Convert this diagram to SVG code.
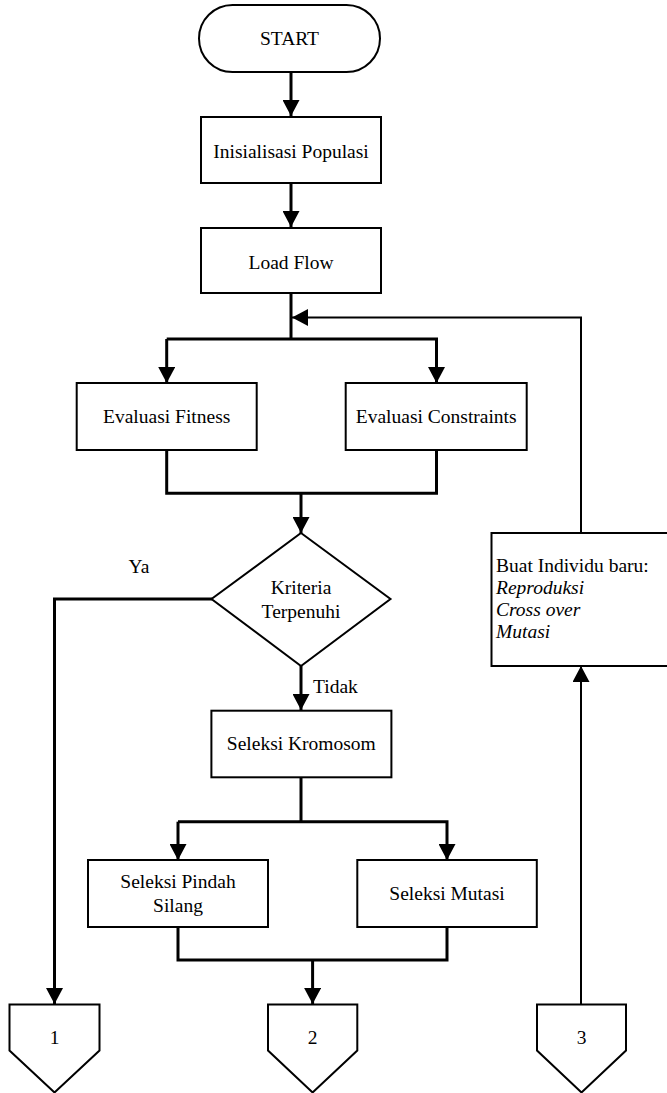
<svg xmlns="http://www.w3.org/2000/svg" width="667" height="1093" viewBox="0 0 667 1093">
<defs>
<style>
.box{fill:#fff;stroke:#000;stroke-width:2}
text{font-family:'Liberation Serif','Times New Roman',Times,'DejaVu Serif',serif;font-size:19.5px;fill:#000}
.t{text-anchor:middle}
.it{font-style:italic}
.thick{fill:none;stroke:#000;stroke-width:3}
.thin{fill:none;stroke:#000;stroke-width:2}
</style>
<marker id="ah" viewBox="0 0 16 17" refX="16" refY="8.5" markerWidth="16" markerHeight="17" markerUnits="userSpaceOnUse" orient="auto">
<path d="M0,0 L16,8.5 L0,17 Z" fill="#000"/>
</marker>
</defs>
<rect width="667" height="1093" fill="#fff"/>
<g id="connectors">
<path class="thick" d="M291,72 V116" marker-end="url(#ah)"/>
<path class="thick" d="M291,183 V227" marker-end="url(#ah)"/>
<path class="thick" d="M291,293 V339"/>
<path class="thick" d="M166.7,339 H436.5 V383" marker-end="url(#ah)"/>
<path class="thick" d="M166.7,339 V383" marker-end="url(#ah)"/>
<path class="thick" d="M166.7,450 V493.3 H436.5 V450"/>
<path class="thick" d="M301,493.3 V533" marker-end="url(#ah)"/>
<path class="thick" d="M212,599 H54.5 V1004" marker-end="url(#ah)"/>
<path class="thick" d="M301,666 V710" marker-end="url(#ah)"/>
<path class="thick" d="M301,777 V821.7"/>
<path class="thick" d="M178,821.7 V860" marker-end="url(#ah)"/>
<path class="thick" d="M178,821.7 H447 V860" marker-end="url(#ah)"/>
<path class="thick" d="M178,927 V960 H447 V927"/>
<path class="thick" d="M312.6,960 V1004" marker-end="url(#ah)"/>
<path class="thin" d="M581,1004 V666" marker-end="url(#ah)"/>
<path class="thin" d="M581,533 V317.5 H292" marker-end="url(#ah)"/>
</g>
<g id="start">
<rect class="box" x="199" y="5" width="181" height="67" rx="33.5" ry="33.5"/>
<text class="t" x="289.5" y="45" font-family="Liberation Serif">START</text>
</g>
<g id="inisialisasi">
<rect class="box" x="201" y="117" width="180" height="66"/>
<text class="t" x="291" y="158">Inisialisasi Populasi</text>
</g>
<g id="loadflow">
<rect class="box" x="201" y="228" width="180" height="65"/>
<text class="t" x="291" y="269">Load Flow</text>
</g>
<g id="fitness">
<rect class="box" x="76.7" y="383" width="180" height="67"/>
<text class="t" x="166.7" y="423">Evaluasi Fitness</text>
</g>
<g id="constraints">
<rect class="box" x="345.7" y="383" width="181" height="67"/>
<text class="t" x="436.2" y="423">Evaluasi Constraints</text>
</g>
<g id="kriteria">
<polygon class="box" points="301,533 390.5,599 301,666 211.5,599"/>
<text class="t" x="301" y="594">Kriteria</text>
<text class="t" x="301" y="618">Terpenuhi</text>
</g>
<g id="labels">
<text class="t" x="139" y="573">Ya</text>
<text x="313" y="693">Tidak</text>
</g>
<g id="kromosom">
<rect class="box" x="211.4" y="710.7" width="180" height="66.6"/>
<text class="t" x="301.3" y="749.5">Seleksi Kromosom</text>
</g>
<g id="pindah">
<rect class="box" x="88" y="860" width="180" height="67"/>
<text class="t" x="178" y="888">Seleksi Pindah</text>
<text class="t" x="178" y="912">Silang</text>
</g>
<g id="mutasi">
<rect class="box" x="357.3" y="860" width="179.5" height="67"/>
<text class="t" x="447" y="900">Seleksi Mutasi</text>
</g>
<g id="buat">
<rect class="box" x="491.5" y="533" width="180" height="133"/>
<text x="496" y="572">Buat Individu baru:</text>
<text class="it" x="496" y="594">Reproduksi</text>
<text class="it" x="496" y="616">Cross over</text>
<text class="it" x="496" y="638">Mutasi</text>
</g>
<g id="c1">
<polygon class="box" points="9.5,1004.5 99.5,1004.5 99.5,1050.5 54.5,1092.5 9.5,1050.5"/>
<text class="t" x="54.5" y="1044">1</text>
</g>
<g id="c2">
<polygon class="box" points="268,1004.5 357.3,1004.5 357.3,1050.5 312.6,1092.5 268,1050.5"/>
<text class="t" x="312.6" y="1044">2</text>
</g>
<g id="c3">
<polygon class="box" points="537,1004.5 626,1004.5 626,1050.5 581.5,1092.5 537,1050.5"/>
<text class="t" x="581.5" y="1044">3</text>
</g>
</svg>
